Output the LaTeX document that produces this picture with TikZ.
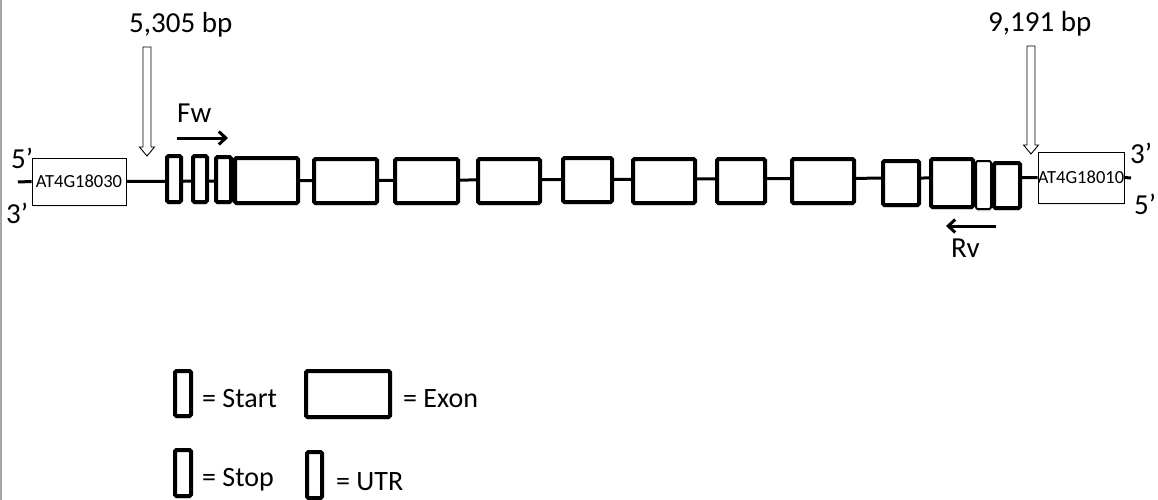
\documentclass[tikz,border=0pt]{standalone}
\usepackage{fontspec}
\setmainfont{Carlito}
\usetikzlibrary{arrows.meta}
\usetikzlibrary{positioning}
\usetikzlibrary{shadows}

\tikzset{
  exon/.style={draw, line width=4pt, fill=white, rounded corners=1.5pt, inner sep=0pt,
    drop shadow={shadow xshift=0pt, shadow yshift=-2.5pt, opacity=0.2}},
  utr/.style={exon, line width=2pt},
  gene/.style={draw, line width=0.8pt, fill=white, inner sep=0pt,
    drop shadow={shadow xshift=1pt, shadow yshift=-2pt, opacity=0.15},
    font=\fontsize{18.5}{22}\selectfont},
  bbone/.style={line width=3pt},
  primer/.style={line width=3pt, -{Straight Barb[length=7pt,width=13pt]}},
  lbl/.style={inner sep=0pt, font=\fontsize{29}{34}\selectfont},
  legtext/.style={inner sep=0pt, font=\fontsize{28}{33}\selectfont},
}

% hollow position arrow: x, top y, tip y
\newcommand{\bparrow}[3]{%
  \draw[fill=white, line width=0.9pt] (#1-4,#2) -- (#1+4,#2) -- (#1+4,#3-9)
    -- (#1+7.5,#3-9) -- (#1,#3) -- (#1-7.5,#3-9) -- (#1-4,#3-9) -- cycle;}

\begin{document}
\begin{tikzpicture}[x=1pt, y=-1pt]
  \useasboundingbox (0,0) rectangle (1158,500);
  \draw[gray!70, line width=1.5pt] (1,0) -- (1,500);

  % flanking genes
  \node[gene, minimum width=94pt, minimum height=47pt] (g1) at (79,181.5) {AT4G18030};
  \node[gene, minimum width=82pt, minimum height=51pt] (g2) at (1081,177.5) {AT4G18010};

  % backbone
  \coordinate (end5) at (18,182);
  \coordinate (end3) at (1131,178);
  \draw[bbone] (end5) -- (g1.west);
  \draw[bbone] (g1.east) -- (g2.west);
  \draw[bbone] (g2.east) -- (end3);

  % strand ends
  \node[lbl, anchor=base west] (p5l) at (11,168) {5’};
  \node[lbl, anchor=base west] (p3l) at (6,223) {3’};
  \node[lbl, anchor=base west] (p3r) at (1130,163) {3’};
  \node[lbl, anchor=base west] (p5r) at (1134,214) {5’};

  % exons
  \node[utr, minimum width=15pt, minimum height=48pt] (u2) at (983.5,185) {};
  \foreach \name/\xa/\xb/\ya/\yb in {s1/165/183/154/204, s2/191/209/154/204,
      u1/214/233/155/204, e1/233/300/156/205, e2/312/379/157/205,
      e3/393/460/157/205, e4/476/542/157/205, e5/561/614/156/204,
      e6/631/697/157/205, e7/715/767/157/205, e8/790/856/157/205,
      e9/881/921/159/207, e10/929/975/157/209, e11/992/1022/161/210}
    \node[exon, minimum width={(\xb-\xa-4)*1pt}, minimum height={(\yb-\ya-4)*1pt}]
      (\name) at ({(\xa+\xb)/2},{(\ya+\yb)/2}) {};

  % positions
  \node[lbl, anchor=base west] (bp1) at (129,33) {5,305 bp};
  \node[lbl, anchor=base west] (bp2) at (988,32) {9,191 bp};
  \bparrow{147}{47}{156}
  \bparrow{1031}{46}{154}

  % primers
  \coordinate (fwA) at (177,138);
  \coordinate (fwB) at (228,138);
  \draw[primer] (fwA) -- (fwB);
  \node[lbl, anchor=base west] (fw) at (177,122) {Fw};
  \coordinate (rvA) at (996,226);
  \coordinate (rvB) at (946,226);
  \draw[primer] (rvA) -- (rvB);
  \node[lbl, anchor=base west] (rv) at (951,257) {Rv};

  % legend
  \node[exon, minimum width=16pt, minimum height=45pt] (lstart) at (183,393.5) {};
  \node[exon, minimum width=84pt, minimum height=46pt] (lexon) at (348,394) {};
  \node[exon, minimum width=16pt, minimum height=46pt] (lstop) at (183,473) {};
  \node[exon, minimum width=15pt, minimum height=46pt] (lutr) at (314.5,475) {};
  \node[legtext, anchor=base west] (tstart) at (202,407) {= Start};
  \node[legtext, anchor=base west] (texon) at (403,407) {= Exon};
  \node[legtext, anchor=base west] (tstop) at (202,486) {= Stop};
  \node[legtext, anchor=base west] (tutr) at (336,490) {= UTR};
\end{tikzpicture}
\end{document}
